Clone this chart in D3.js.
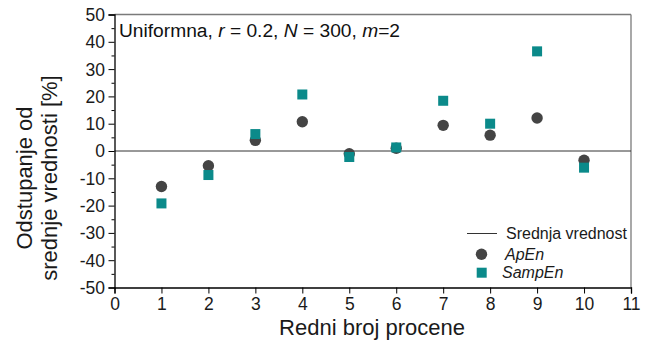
<!DOCTYPE html>
<html>
<head>
<meta charset="utf-8">
<script src="https://cdn.jsdelivr.net/npm/d3@7"></script>
<style>
  html, body { margin: 0; padding: 0; background: #fff; }
  svg { display: block; font-family: "Liberation Sans", Arial, sans-serif; }
</style>
</head>
<body>
<svg id="chart" width="654" height="342"></svg>
<script>
// Estimate index and deviation from the mean value [%]
const estimates = [1, 2, 3, 4, 5, 6, 7, 8, 9, 10];
const apEn   = [-13.0, -5.4, 3.9, 10.7, -1.0, 1.0, 9.4, 5.8, 12.1, -3.4];
const sampEn = [-19.2, -8.8, 6.2, 20.7, -2.2, 1.3, 18.4, 10.0, 36.5, -6.1];
const xTicks = [0, 1, 2, 3, 4, 5, 6, 7, 8, 9, 10, 11];
const yTicks = [50, 40, 30, 20, 10, 0, -10, -20, -30, -40, -50];
const yMinorTicks = [45, 35, 25, 15, 5, -5, -15, -25, -35, -45];

const svg = d3.select("#chart");
const m = { left: 114.5, right: 631, top: 14.5, bottom: 287.5 };

const x = d3.scaleLinear().domain([0, 11]).range([m.left, m.right]);
const y = d3.scaleLinear().domain([-50, 50]).range([m.bottom, m.top]);

const fmt = d => String(d);   // plain hyphen-minus for negative labels

// frame: grey top/right edges
svg.append("line").attr("x1", m.left).attr("x2", m.right).attr("y1", m.top).attr("y2", m.top)
  .attr("stroke", "#7a7a7a").attr("stroke-width", 1.3);
svg.append("line").attr("x1", m.right).attr("x2", m.right).attr("y1", m.top).attr("y2", m.bottom)
  .attr("stroke", "#7a7a7a").attr("stroke-width", 1.3);

// mean value line at 0
svg.append("line").attr("x1", m.left).attr("x2", m.right)
  .attr("y1", y(0)).attr("y2", y(0)).attr("stroke", "#333").attr("stroke-width", 1);

// y axis
const gy = svg.append("g").attr("transform", `translate(${m.left},0)`)
  .call(d3.axisLeft(y).tickValues(yTicks).tickSize(6).tickPadding(3.5).tickFormat(fmt));
const gyMinor = svg.append("g").attr("transform", `translate(${m.left},0)`)
  .call(d3.axisLeft(y).tickValues(yMinorTicks).tickSize(3).tickFormat(""));
gyMinor.select(".domain").remove();
gy.select(".domain").attr("stroke", "#000").attr("stroke-width", 1.3);

// x axis
const gx = svg.append("g").attr("transform", `translate(0,${m.bottom})`)
  .call(d3.axisBottom(x).tickValues(xTicks).tickSize(6).tickPadding(4.5).tickFormat(fmt));
gx.select(".domain").attr("stroke", "#000").attr("stroke-width", 1.3);

[gx, gy].forEach(g => g.selectAll("text")
  .attr("font-size", 17.5).attr("fill", "#1a1a1a")
  .attr("font-family", "'Liberation Sans', Arial, sans-serif"));
gy.selectAll("text").attr("dy", "0.34em");

// axis titles
svg.append("text").attr("x", 372).attr("y", 335)
  .attr("text-anchor", "middle").attr("font-size", 22).attr("fill", "#1a1a1a")
  .text("Redni broj procene");
const yt = svg.append("text").attr("transform", "translate(0,178) rotate(-90)")
  .attr("text-anchor", "middle").attr("font-size", 22).attr("fill", "#1a1a1a");
yt.append("tspan").attr("x", 0).attr("y", 32).text("Odstupanje od");
yt.append("tspan").attr("x", 0).attr("y", 57).text("srednje vrednosti [%]");

// annotation
const ann = svg.append("text").attr("x", 119).attr("y", 37).attr("font-size", 19.2).attr("fill", "#111");
ann.append("tspan").text("Uniformna, ");
ann.append("tspan").attr("font-style", "italic").text("r");
ann.append("tspan").text(" = 0.2, ");
ann.append("tspan").attr("font-style", "italic").text("N");
ann.append("tspan").text(" = 300, ");
ann.append("tspan").attr("font-style", "italic").text("m");
ann.append("tspan").text("=2");

// data markers: ApEn circles, SampEn squares drawn on top
const sq = 10;
svg.append("g").selectAll("circle").data(estimates).join("circle")
  .attr("cx", d => x(d)).attr("cy", (d, i) => y(apEn[i])).attr("r", 5.7)
  .attr("fill", "#444");
svg.append("g").selectAll("rect").data(estimates).join("rect")
  .attr("x", d => x(d) - sq / 2).attr("y", (d, i) => y(sampEn[i]) - sq / 2)
  .attr("width", sq).attr("height", sq).attr("fill", "#0b8a8a");

// legend
const lg = svg.append("g").attr("font-size", 16).attr("fill", "#1a1a1a");
lg.append("line").attr("x1", 467).attr("x2", 497).attr("y1", 233.5).attr("y2", 233.5)
  .attr("stroke", "#333").attr("stroke-width", 1);
lg.append("text").attr("x", 506).attr("y", 239).text("Srednja vrednost");
lg.append("circle").attr("cx", 481.5).attr("cy", 254.3).attr("r", 5.7).attr("fill", "#444");
lg.append("text").attr("x", 505).attr("y", 260).attr("font-style", "italic").text("ApEn");
lg.append("rect").attr("x", 476.7).attr("y", 267.7).attr("width", sq).attr("height", sq).attr("fill", "#0b8a8a");
lg.append("text").attr("x", 502).attr("y", 278).attr("font-style", "italic").text("SampEn");
</script>
</body>
</html>
